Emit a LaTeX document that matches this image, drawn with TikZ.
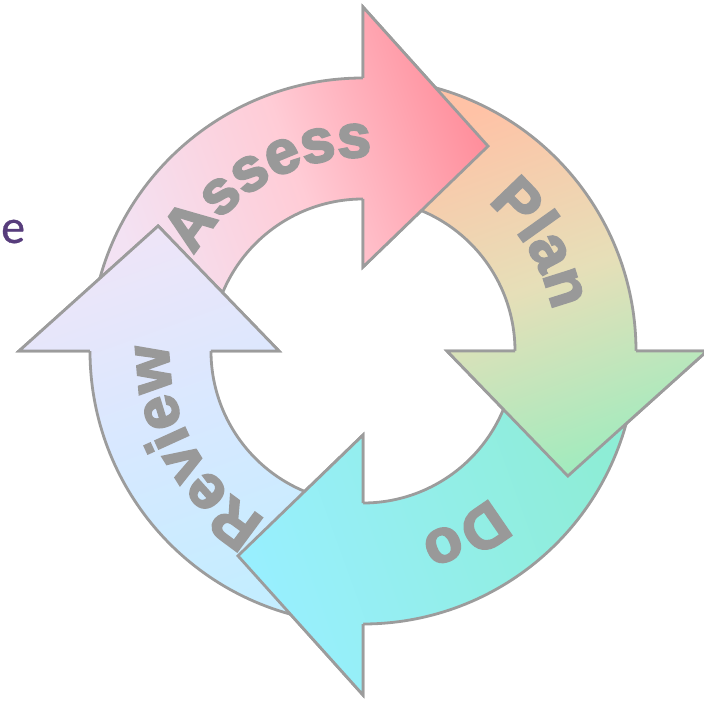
\documentclass[tikz,border=0pt]{standalone}
\usepackage{fontspec}
\usetikzlibrary{decorations.text}
\newfontfamily\arrowlabelfont[FakeBold=3.5]{Liberation Sans Bold}
\newfontfamily\sidefont[FakeBold=0.6]{Carlito}
\definecolor{edgegray}{HTML}{9C9C9C}
\definecolor{labelgray}{HTML}{999999}
\definecolor{sidepurple}{HTML}{573D7C}
\definecolor{aTail}{HTML}{F3E2F3}\definecolor{aMid}{HTML}{FFCCD6}\definecolor{aTip}{HTML}{FF8F9C}
\definecolor{pTail}{HTML}{FFC2A6}\definecolor{pMid}{HTML}{E6DFB8}\definecolor{pTip}{HTML}{A2EBBE}
\definecolor{dTail}{HTML}{8EEDD6}\definecolor{dMid}{HTML}{93EEEA}\definecolor{dTip}{HTML}{98EFFF}
\definecolor{rTail}{HTML}{C4EDFF}\definecolor{rMid}{HTML}{D8E8FF}\definecolor{rTip}{HTML}{EEE5F8}
\newcommand\cyclearrowpath[1]{(168+#1:273) arc[start angle=168+#1, end angle=90+#1, radius=273] -- (90+#1:344) -- (58.6+#1:240) -- (90+#1:84) -- (90+#1:152) arc[start angle=90+#1, end angle=168+#1, radius=152] -- cycle}
\newcommand\labelstyle{\color{labelgray}\fontsize{61}{62}\selectfont\arrowlabelfont}
\tikzset{
  arrowline/.style={draw=edgegray, line width=2.8pt, line join=miter},
  labelpath/.style={decorate, decoration={text along path, text align=center, text={#1}}}
}
\begin{document}
\begin{tikzpicture}[x=1pt, y=1pt]
\useasboundingbox (-363,-350) rectangle (341,351);
% full arrows
\foreach \phi/\ct/\cm/\cb/\ang in {0/aTip/aMid/aTail/-70, -90/pTip/pMid/pTail/-160, -180/dTip/dMid/dTail/110, -270/rTip/rMid/rTail/20}{
  \path[arrowline, top color=\ct, bottom color=\cb, middle color=\cm, shading angle=\ang] \cyclearrowpath{\phi};
}
% heads on top
\foreach \phi/\ct/\cm/\cb/\ang in {0/aTip/aMid/aTail/-70, -90/pTip/pMid/pTail/-160, -180/dTip/dMid/dTail/110, -270/rTip/rMid/rTail/20}{
  \begin{scope}
    \clip (90+\phi:344) -- (58.6+\phi:240) -- (90+\phi:84) -- cycle;
    \shade[top color=\ct, bottom color=\cb, middle color=\cm, shading angle=\ang] \cyclearrowpath{\phi};
  \end{scope}
  \draw[arrowline] (90+\phi:152) -- (90+\phi:84) -- (58.6+\phi:240) -- (90+\phi:344) -- (90+\phi:273);
}
% labels
\path[labelpath={|\labelstyle|Assess}] (164:194) arc[start angle=164, end angle=74, radius=194];
\path[labelpath={|\labelstyle|Plan}] (76:194) arc[start angle=76, end angle=-14, radius=194];
\path[labelpath={|\labelstyle|Do}] (-16:194) arc[start angle=-16, end angle=-106, radius=194];
\path[labelpath={|\labelstyle|Review}] (-106:194) arc[start angle=-106, end angle=-196, radius=194];
\node[anchor=base west, inner sep=0, font=\sidefont\fontsize{48}{50}\selectfont, text=sidepurple] (sidee) at (-362,108) {e};
\end{tikzpicture}
\end{document}
